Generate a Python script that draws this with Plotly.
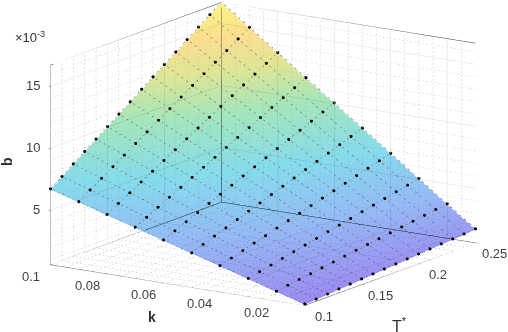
import numpy as np
import plotly.graph_objects as go

T_values = [0.10, 0.11, 0.12, 0.13, 0.14, 0.15, 0.16, 0.17, 0.18, 0.19, 0.20, 0.21, 0.22, 0.23, 0.24, 0.25]
k_values = [0.01, 0.02, 0.03, 0.04, 0.05, 0.06, 0.07, 0.08, 0.09, 0.10]

# b in units of 1e-3, one list per k
b_k01 = [0.67, 0.73, 0.80, 0.87, 0.93, 1.00, 1.07, 1.13, 1.20, 1.27, 1.33, 1.40, 1.47, 1.53, 1.60, 1.67]
b_k02 = [1.33, 1.47, 1.60, 1.73, 1.87, 2.00, 2.13, 2.27, 2.40, 2.53, 2.67, 2.80, 2.93, 3.07, 3.20, 3.33]
b_k03 = [2.00, 2.20, 2.40, 2.60, 2.80, 3.00, 3.20, 3.40, 3.60, 3.80, 4.00, 4.20, 4.40, 4.60, 4.80, 5.00]
b_k04 = [2.67, 2.93, 3.20, 3.47, 3.73, 4.00, 4.27, 4.53, 4.80, 5.07, 5.33, 5.60, 5.87, 6.13, 6.40, 6.67]
b_k05 = [3.33, 3.67, 4.00, 4.33, 4.67, 5.00, 5.33, 5.67, 6.00, 6.33, 6.67, 7.00, 7.33, 7.67, 8.00, 8.33]
b_k06 = [4.00, 4.40, 4.80, 5.20, 5.60, 6.00, 6.40, 6.80, 7.20, 7.60, 8.00, 8.40, 8.80, 9.20, 9.60, 10.00]
b_k07 = [4.67, 5.13, 5.60, 6.07, 6.53, 7.00, 7.47, 7.93, 8.40, 8.87, 9.33, 9.80, 10.27, 10.73, 11.20, 11.67]
b_k08 = [5.33, 5.87, 6.40, 6.93, 7.47, 8.00, 8.53, 9.07, 9.60, 10.13, 10.67, 11.20, 11.73, 12.27, 12.80, 13.33]
b_k09 = [6.00, 6.60, 7.20, 7.80, 8.40, 9.00, 9.60, 10.20, 10.80, 11.40, 12.00, 12.60, 13.20, 13.80, 14.40, 15.00]
b_k10 = [6.67, 7.33, 8.00, 8.67, 9.33, 10.00, 10.67, 11.33, 12.00, 12.67, 13.33, 14.00, 14.67, 15.33, 16.00, 16.67]
b_rows = [b_k01, b_k02, b_k03, b_k04, b_k05, b_k06, b_k07, b_k08, b_k09, b_k10]

T_ticks = [0.1, 0.15, 0.2, 0.25]
T_labels = ["0.1", "0.15", "0.2", "0.25"]
k_ticks = [0.02, 0.04, 0.06, 0.08, 0.1]
k_labels = ["0.02", "0.04", "0.06", "0.08", "0.1"]
b_ticks = [5, 10, 15]
b_labels = ["5", "10", "15"]
T_range = [0.1, 0.25]
k_range = [0.01, 0.1]
b_range = [0.6, 16.7]

T_minor = [0.11, 0.12, 0.13, 0.14, 0.16, 0.17, 0.18, 0.19, 0.21, 0.22, 0.23, 0.24]
k_minor = [0.015, 0.025, 0.03, 0.035, 0.045, 0.05, 0.055, 0.065, 0.07, 0.075, 0.085, 0.09, 0.095]
b_minor = [1, 2, 3, 4, 6, 7, 8, 9, 11, 12, 13, 14, 16]

colorscale = [
    [0.0, "#5a3fe6"],
    [0.2, "#4f8cf0"],
    [0.4, "#35c4e0"],
    [0.6, "#68d590"],
    [0.75, "#c8d650"],
    [0.87, "#f8c848"],
    [1.0, "#f8ee30"],
]

T0, T1 = T_range
k0, k1 = k_range
b0, b1 = b_range

aspect = dict(x=1.866, y=1.835, z=1.24)
view_dir = np.array([-0.808, -0.537, 0.2426])
center = dict(x=-0.030, y=0.045, z=-0.0745)
# eye is measured from the same origin as center, so it has to move with it
eye = dict(x=-1.62 + center["x"], y=-1.07 + center["y"], z=0.485 + center["z"])


def line_trace(segments, color, width=1):
    xs, ys, zs = [], [], []
    for seg in segments:
        xs += [p[0] for p in seg] + [None]
        ys += [p[1] for p in seg] + [None]
        zs += [p[2] for p in seg] + [None]
    return go.Scatter3d(
        x=xs, y=ys, z=zs, mode="lines", showlegend=False, hoverinfo="skip",
        line=dict(color=color, width=width),
    )


# plotly's dash scaling goes wrong across axes of different units, so dots are short pieces
def dotted(p, q, n, fill=0.4):
    p, q = np.array(p), np.array(q)
    return [(tuple(p + (q - p) * i / n), tuple(p + (q - p) * (i + fill) / n)) for i in range(n)]


def surface_height(t, k):
    col = [np.interp(t, T_values, row) for row in b_rows]
    return np.interp(k, k_values, col)


# step along the line of sight, one aspect unit at a time scaled to data units
view_step = view_dir * np.array([(T1 - T0) / aspect["x"], (k1 - k0) / aspect["y"], (b1 - b0) / aspect["z"]])


def through_surface(p, q, n=40):
    """Part of a wall line that lies behind the surface, moved along the line of
    sight to just in front of it, so it keeps its place on screen and shows through."""
    p, q = np.array(p), np.array(q)
    pieces, current = [], []
    for i in range(n + 1):
        pt = p + (q - p) * i / n
        found = None
        if pt[2] < surface_height(pt[0], pt[1]):
            for s in np.arange(0.02, 3.0, 0.02):
                c = pt + view_step * s
                if not (T0 <= c[0] <= T1 and k0 <= c[1] <= k1 and c[2] <= b1):
                    break
                if c[2] > surface_height(c[0], c[1]) + 0.03:
                    found = tuple(c)
                    break
        if found is not None:
            current.append(found)
        elif current:
            pieces.append(current)
            current = []
    if current:
        pieces.append(current)
    return pieces


fig = go.Figure()

# dotted minor grid on the three back walls
minor = []
for t in T_minor:
    minor += dotted((t, k1, b0), (t, k1, b1), 50)
    minor += dotted((t, k0, b0), (t, k1, b0), 64)
for k in k_minor:
    minor += dotted((T1, k, b0), (T1, k, b1), 50)
    minor += dotted((T0, k, b0), (T1, k, b0), 45)
for b in b_minor:
    minor += dotted((T0, k1, b), (T1, k1, b), 45)
    minor += dotted((T1, k0, b), (T1, k1, b), 64)
fig.add_trace(line_trace(minor, "#bcbcbc"))

fig.add_trace(
    go.Surface(
        x=T_values, y=k_values, z=b_rows,
        colorscale=colorscale, cmin=0.67, cmax=16.67,
        opacity=0.6, showscale=False, hoverinfo="skip",
        lighting=dict(ambient=1, diffuse=0, specular=0, roughness=1, fresnel=0),
    )
)

# box and major grid as seen through the surface, pure black so the blend only darkens
see_dark = []
see_dark += through_surface((T1, k1, b0), (T1, k1, b1))
see_dark += through_surface((T0, k1, b0), (T1, k1, b0))
see_dark += through_surface((T1, k1, b0), (T1, k0, b0))
fig.add_trace(line_trace(see_dark, "rgba(0,0,0,0.62)"))

see_light = []
for b in b_ticks:
    see_light += through_surface((T0, k1, b), (T1, k1, b))
    see_light += through_surface((T1, k1, b), (T1, k0, b))
for t in [0.15, 0.2]:
    see_light += through_surface((t, k1, b0), (t, k1, b1))
    see_light += through_surface((t, k1, b0), (t, k0, b0))
for k in [0.02, 0.04, 0.06, 0.08]:
    see_light += through_surface((T1, k, b0), (T1, k, b1))
    see_light += through_surface((T1, k, b0), (T0, k, b0))
fig.add_trace(line_trace(see_light, "rgba(0,0,0,0.1)"))

# mesh of the surface: dotted lines and a dot at each vertex, lifted a hair off the surface
lift = 0.06
mesh = []
for row, k in zip(b_rows, k_values):
    for i in range(len(T_values) - 1):
        mesh += dotted((T_values[i], k, row[i] + lift), (T_values[i + 1], k, row[i + 1] + lift), 3)
for j, t in enumerate(T_values):
    for i in range(len(k_values) - 1):
        mesh += dotted((t, k_values[i], b_rows[i][j] + lift), (t, k_values[i + 1], b_rows[i + 1][j] + lift), 6)
fig.add_trace(line_trace(mesh, "#444444"))

tt, kk = np.meshgrid(T_values, k_values)
fig.add_trace(
    go.Scatter3d(
        x=tt.ravel(), y=kk.ravel(), z=np.array(b_rows).ravel() + lift,
        mode="markers", showlegend=False, hoverinfo="skip",
        marker=dict(color="black", size=1.8),
    )
)

# axes box
box = [
    [(T0, k1, b0), (T0, k1, b1), (T1, k1, b1), (T1, k0, b1)],
    [(T1, k1, b0), (T1, k1, b1)],
    [(T0, k1, b0), (T1, k1, b0), (T1, k0, b0)],
    [(T0, k1, b0), (T0, k0, b0), (T1, k0, b0)],
]
fig.add_trace(line_trace(box, "#333333", 1))

axis_common = dict(
    showgrid=True, gridcolor="#dcdcdc", gridwidth=1, showbackground=False,
    zeroline=False, showline=False, ticks="outside", ticklen=3, tickcolor="#404040",
    showticklabels=False, title=dict(text=""), showspikes=False, autorange=False,
)

tick_font = dict(family="Liberation Sans", size=13, color="#404040")
scene_annots = []
for t, label in zip(T_ticks, T_labels):
    scene_annots.append(dict(x=t, y=k0, z=b0, text=label, showarrow=False, xshift=19, yshift=-11, font=tick_font))
for k, label in zip(k_ticks, k_labels):
    scene_annots.append(dict(x=T0, y=k, z=b0, text=label, showarrow=False, xshift=-20, yshift=-12, font=tick_font))
for b, label in zip(b_ticks, b_labels):
    scene_annots.append(dict(x=T0, y=k1, z=b, text=label, showarrow=False, xanchor="right", xshift=-9, yshift=1, font=tick_font))

annots = [
    ("×10<sup>-3</sup>", 30, 37, 13, False),
    ("b", 7, 162, 14, True),
    ("k", 152, 317, 14, True),
    ("T<sup>*</sup>", 399, 325, 16, False),
]
layout_annots = []
for text, px, py, size, bold in annots:
    layout_annots.append(
        dict(
            text=f"<b>{text}</b>" if bold else text,
            x=px / 508, y=1 - py / 332, xref="paper", yref="paper",
            showarrow=False, xanchor="center", yanchor="middle",
            textangle=-90 if text == "b" else 0,
            font=dict(family="Liberation Sans", size=size, color="#303030"),
        )
    )

fig.update_layout(
    width=508, height=332,
    margin=dict(l=0, r=0, t=0, b=0),
    paper_bgcolor="white",
    annotations=layout_annots,
    scene=dict(
        domain=dict(x=[0, 1], y=[0, 1]),
        xaxis=dict(axis_common, range=T_range, tickvals=T_ticks),
        yaxis=dict(axis_common, range=k_range, tickvals=k_ticks),
        zaxis=dict(axis_common, range=b_range, tickvals=b_ticks),
        aspectmode="manual",
        aspectratio=aspect,
        annotations=scene_annots,
        camera=dict(
            projection=dict(type="orthographic"),
            eye=eye,
            up=dict(x=0, y=0, z=1),
            center=center,
        ),
    ),
)

fig.write_html("out.html", config={"displayModeBar": False}, post_script="document.body.style.margin='0';")
